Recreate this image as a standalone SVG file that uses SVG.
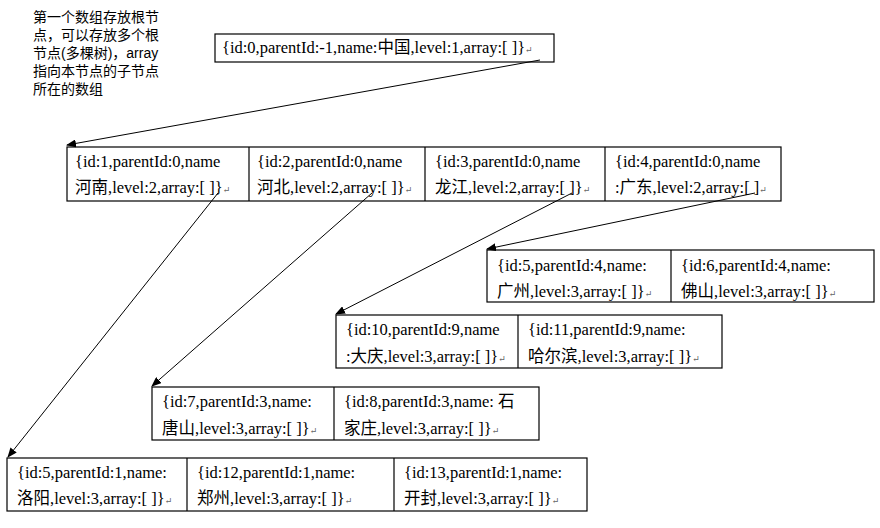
<svg xmlns="http://www.w3.org/2000/svg" width="880" height="528" viewBox="0 0 880 528">
<style>
.b{fill:#fff;stroke:#000;stroke-width:1.2}
.d{stroke:#000;stroke-width:1.2}
.t{font-family:"Liberation Serif","Times New Roman","DejaVu Serif","Noto Sans CJK SC",serif;font-size:16.5px;fill:#000}
.n{font-family:"Liberation Sans","Noto Sans CJK SC",sans-serif;font-size:14px;fill:#000}
.r{font-size:9px;fill:#666}
.c{stroke:#000;stroke-width:1;fill:none;marker-end:url(#a)}
</style>
<defs><marker id="a" markerWidth="10" markerHeight="8" refX="9" refY="4" orient="auto" markerUnits="userSpaceOnUse"><path d="M0,0L10,4L0,8z" fill="#000"/></marker></defs>
<rect width="880" height="528" fill="#fff"/>
<g id="note"><text class="n"><tspan x="33" y="22">第一个数组存放根节</tspan><tspan x="33" y="40">点，可以存放多个根</tspan><tspan x="33" y="58">节点(多棵树)，array</tspan><tspan x="33" y="76">指向本节点的子节点</tspan><tspan x="33" y="94">所在的数组</tspan></text></g>
<g id="root"><rect class="b" x="215" y="34" width="339" height="28"/><text class="t" x="222" y="53">{id:0,parentId:-1,name:中国,level:1,array:[ ]}<tspan class="r">↵</tspan></text></g>
<g id="level2"><rect class="b" x="67" y="147" width="714" height="54"/><path class="d" d="M249,147V201M425,147V201M605,147V201"/>
<text class="t" x="75" y="167">{id:1,parentId:0,name</text><text class="t" x="75" y="193">河南,level:2,array:[ ]}<tspan class="r">↵</tspan></text>
<text class="t" x="257" y="167">{id:2,parentId:0,name</text><text class="t" x="257" y="193">河北,level:2,array:[ ]}<tspan class="r">↵</tspan></text>
<text class="t" x="435" y="167">{id:3,parentId:0,name</text><text class="t" x="435" y="193">龙江,level:2,array:[ ]}<tspan class="r">↵</tspan></text>
<text class="t" x="615" y="167">{id:4,parentId:0,name</text><text class="t" x="615" y="193">:广东,level:2,array:[ ]<tspan class="r">↵</tspan></text></g>
<g id="gd"><rect class="b" x="487" y="250" width="387" height="52"/><path class="d" d="M671,250V302"/>
<text class="t" x="497" y="271">{id:5,parentId:4,name:</text><text class="t" x="497" y="297">广州,level:3,array:[ ]}<tspan class="r">↵</tspan></text>
<text class="t" x="681" y="271">{id:6,parentId:4,name:</text><text class="t" x="681" y="297">佛山,level:3,array:[ ]}<tspan class="r">↵</tspan></text></g>
<g id="hlj"><rect class="b" x="336" y="315" width="386" height="53"/><path class="d" d="M518,315V368"/>
<text class="t" x="346" y="335">{id:10,parentId:9,name</text><text class="t" x="346" y="362">:大庆,level:3,array:[ ]}<tspan class="r">↵</tspan></text>
<text class="t" x="528" y="335">{id:11,parentId:9,name:</text><text class="t" x="528" y="362">哈尔滨,level:3,array:[ ]}<tspan class="r">↵</tspan></text></g>
<g id="hb"><rect class="b" x="152" y="387" width="387" height="53"/><path class="d" d="M334,387V440"/>
<text class="t" x="162" y="407">{id:7,parentId:3,name:</text><text class="t" x="162" y="434">唐山,level:3,array:[ ]}<tspan class="r">↵</tspan></text>
<text class="t" x="344" y="407">{id:8,parentId:3,name: 石</text><text class="t" x="344" y="434">家庄,level:3,array:[ ]}<tspan class="r">↵</tspan></text></g>
<g id="hn"><rect class="b" x="7" y="458" width="580" height="53"/><path class="d" d="M187,458V511M394,458V511"/>
<text class="t" x="17" y="478">{id:5,parentId:1,name:</text><text class="t" x="17" y="504">洛阳,level:3,array:[ ]}<tspan class="r">↵</tspan></text>
<text class="t" x="197" y="478">{id:12,parentId:1,name:</text><text class="t" x="197" y="504">郑州,level:3,array:[ ]}<tspan class="r">↵</tspan></text>
<text class="t" x="404" y="478">{id:13,parentId:1,name:</text><text class="t" x="404" y="504">开封,level:3,array:[ ]}<tspan class="r">↵</tspan></text></g>
<g id="connectors">
<path class="c" d="M540,60L67,145"/>
<path class="c" d="M218,193L8,457"/>
<path class="c" d="M372,193L152,386"/>
<path class="c" d="M572,193L336,314"/>
<path class="c" d="M755,193L487,249"/>
</g>
</svg>
